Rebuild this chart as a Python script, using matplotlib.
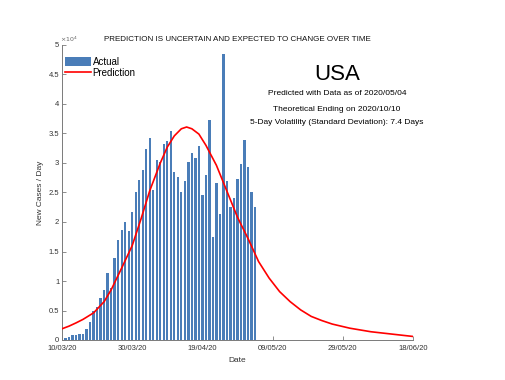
import numpy as np
import matplotlib
matplotlib.use("Agg")
import matplotlib.pyplot as plt

plt.rcParams['font.family'] = ['Liberation Sans', 'DejaVu Sans']

# daily new cases, 10/03/20 .. 04/05/20
start = np.datetime64('2020-03-10')
actual = [100, 390, 500, 850, 900, 960, 1000, 1870, 3060, 4920,
          5660, 7190, 8490, 11320, 8770, 13980, 16870, 18680, 20030, 18400,
          21620, 25010, 27170, 28750, 32370, 34180, 25350, 30560, 30200, 33250,
          33750, 35480, 28400, 27600, 25010, 26880, 30100, 31690, 30840, 32940,
          24620, 28010, 37240, 17540, 26550, 21370, 48530, 26880, 22600, 24050,
          27250, 29870, 33950, 29310, 25100, 22530]
actual_dates = start + np.arange(len(actual))

# prediction curve (day offset from 10/03/20, cases)
pred_day = [0, 2, 4, 6, 9, 12, 14, 17, 20, 22.5, 25, 28, 30, 32, 34, 35.5,
            37, 39, 41, 44, 47, 50, 53, 56, 59, 62, 65, 68, 71, 74, 77, 82,
            88, 94, 100]
pred_val = [1900, 2350, 2900, 3500, 4600, 6500, 8500, 12200, 16000, 20500,
            25300, 30000, 32700, 34600, 35800, 36100, 35800, 34900, 33000, 29600,
            25200, 20800, 17200, 13300, 10500, 8200, 6500, 5100, 4000, 3300,
            2700, 2000, 1400, 1000, 600]
pred_dates = start + np.array([np.timedelta64(int(round(d * 24)), 'h') for d in pred_day])

tick_dates = ['2020-03-10', '2020-03-30', '2020-04-19', '2020-05-09', '2020-05-29', '2020-06-18']
tick_labels = ['10/03/20', '30/03/20', '19/04/20', '09/05/20', '29/05/20', '18/06/20']
yticks = [0, 5000, 10000, 15000, 20000, 25000, 30000, 35000, 40000, 45000, 50000]
ytick_labels = ['0', '0.5', '1', '1.5', '2', '2.5', '3', '3.5', '4', '4.5', '5']

fig = plt.figure(figsize=(5.05, 3.80), dpi=100)
ax = fig.add_axes([62/505, 40/380, 351/505, 295/380])

bars = ax.bar(actual_dates, actual, width=0.66, color='#4a7db8', label='Actual', zorder=2)
line, = ax.plot(pred_dates, pred_val, color='#ff0000', lw=1.2, label='Prediction', zorder=3)

ax.set_xlim(np.datetime64('2020-03-10'), np.datetime64('2020-06-18'))
ax.set_ylim(0, 50000)
ax.set_xticks([np.datetime64(d) for d in tick_dates])
ax.set_xticklabels(tick_labels)
ax.set_yticks(yticks)
ax.set_yticklabels(ytick_labels)

axcol = '#7a7a7a'
for s in ['top', 'right']:
    ax.spines[s].set_visible(False)
for s in ['left', 'bottom']:
    ax.spines[s].set_color(axcol)
    ax.spines[s].set_linewidth(0.7)
ax.tick_params(direction='in', length=3, width=0.6, colors=axcol, labelsize=5.5,
               labelcolor='#333333')
ax.tick_params(axis='y', pad=2)
ax.tick_params(axis='x', pad=3.5)

ax.text(-0.005, 1.003, r'$\times10^4$', transform=ax.transAxes, fontsize=4.5,
        color='#666666', ha='left', va='bottom')

ax.set_xlabel('Date', fontsize=6, color='#333333', labelpad=4)
ax.set_ylabel('New Cases / Day', fontsize=6, color='#333333', labelpad=3)
ax.set_title('PREDICTION IS UNCERTAIN AND EXPECTED TO CHANGE OVER TIME',
             fontsize=5.8, color='#111111', pad=3)

ax.text(0.783, 0.9, 'USA', transform=ax.transAxes, fontsize=16, ha='center', va='center')
ax.text(0.783, 0.834, 'Predicted with Data as of 2020/05/04', transform=ax.transAxes,
        fontsize=6, ha='center', va='center')
ax.text(0.783, 0.783, 'Theoretical Ending on 2020/10/10', transform=ax.transAxes,
        fontsize=6, ha='center', va='center')
ax.text(0.783, 0.737, '5-Day Volatility (Standard Deviation): 7.4 Days', transform=ax.transAxes,
        fontsize=6, ha='center', va='center')

ax.legend([bars, line], ['Actual', 'Prediction'], loc='upper left',
          bbox_to_anchor=(-0.01, 0.983), frameon=False, fontsize=7,
          handlelength=2.6, handleheight=1.1, borderpad=0.2, labelspacing=0.15,
          handletextpad=0.2)

fig.savefig('out.png', dpi=100)
